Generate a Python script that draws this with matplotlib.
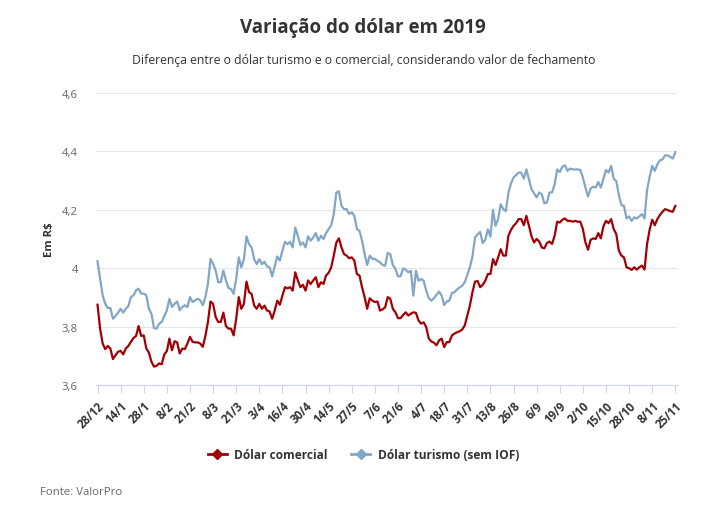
import numpy as np
import matplotlib
matplotlib.use('agg')
import matplotlib.pyplot as plt
from matplotlib.lines import Line2D

plt.rcParams['font.family'] = ['Open Sans', 'DejaVu Sans']

# fechamento diário, 28/12/2018 a 25/11/2019 (pregões)
comercial = [
    3.875, 3.793, 3.742, 3.723, 3.734, 3.725, 3.689, 3.702, 3.714, 3.717,
    3.705, 3.725, 3.734, 3.748, 3.761, 3.768, 3.802, 3.768, 3.770, 3.725,
    3.711, 3.680, 3.663, 3.666, 3.674, 3.671, 3.705, 3.716, 3.759, 3.719,
    3.750, 3.746, 3.708, 3.725, 3.723, 3.742, 3.765, 3.748, 3.746, 3.746,
    3.742, 3.731, 3.768, 3.816, 3.886, 3.878, 3.833, 3.816, 3.816, 3.848,
    3.802, 3.793,
    3.793, 3.770, 3.827, 3.901, 3.861, 3.878, 3.954, 3.918, 3.912, 3.872,
    3.861, 3.878, 3.861, 3.872, 3.855, 3.852, 3.827, 3.855, 3.889, 3.875,
    3.906, 3.935, 3.931, 3.935, 3.923, 3.986, 3.958, 3.935, 3.943, 3.923,
    3.958, 3.946, 3.958, 3.969, 3.935, 3.952, 3.946, 3.975, 3.984, 4.003,
    4.043, 4.088, 4.102, 4.071, 4.048, 4.043, 4.034, 4.037, 4.026, 3.980,
    3.975, 3.935, 3.901, 3.861, 3.897, 3.889, 3.884, 3.886,
    3.855, 3.859, 3.866, 3.901, 3.895, 3.861, 3.849, 3.829, 3.829, 3.840,
    3.849, 3.838, 3.844, 3.849, 3.847, 3.821, 3.810, 3.815, 3.798, 3.759,
    3.749, 3.745, 3.736, 3.753, 3.759, 3.730, 3.747, 3.747, 3.770, 3.776,
    3.781, 3.784, 3.790, 3.804, 3.838, 3.872, 3.918, 3.954, 3.956, 3.935,
    3.943, 3.957, 3.980, 3.980, 4.031, 4.011, 4.037, 4.065, 4.043, 4.043,
    4.111, 4.131, 4.145, 4.154,
    4.168, 4.168, 4.147, 4.179, 4.145, 4.109, 4.088, 4.100, 4.091, 4.071,
    4.068, 4.086, 4.091, 4.083, 4.111, 4.159, 4.156, 4.166, 4.170, 4.162,
    4.162, 4.159, 4.162, 4.159, 4.159, 4.134, 4.088, 4.063, 4.097, 4.102,
    4.100, 4.120, 4.102, 4.143, 4.162, 4.154, 4.168, 4.134, 4.117, 4.060,
    4.043, 4.037, 4.003, 4.000, 3.994, 4.003, 3.995, 4.003, 4.009, 3.995,
    4.083, 4.132, 4.166, 4.147, 4.168, 4.182, 4.193, 4.202, 4.199, 4.195,
    4.193, 4.213,
]

turismo = [
    4.024, 3.964, 3.907, 3.878, 3.864, 3.864, 3.827, 3.836, 3.848, 3.861,
    3.848, 3.861, 3.870, 3.901, 3.907, 3.924, 3.930, 3.913, 3.913, 3.907,
    3.861, 3.844, 3.795, 3.793, 3.810, 3.816, 3.836, 3.856, 3.895, 3.867,
    3.878, 3.886, 3.856, 3.867, 3.873, 3.867, 3.901, 3.884, 3.890, 3.895,
    3.890, 3.873, 3.901, 3.947, 4.032, 4.015, 3.992, 3.952, 3.952, 3.992,
    3.958, 3.932,
    3.929, 3.912, 3.963, 4.037, 4.003, 4.031, 4.109, 4.082, 4.071, 4.031,
    4.014, 4.031, 4.014, 4.022, 4.006, 4.003, 3.972, 4.006, 4.040, 4.026,
    4.060, 4.090, 4.082, 4.090, 4.071, 4.139, 4.111, 4.079, 4.088, 4.071,
    4.109, 4.094, 4.105, 4.120, 4.094, 4.111, 4.100, 4.120, 4.134, 4.147,
    4.185, 4.259, 4.263, 4.213, 4.202, 4.202, 4.185, 4.191, 4.179, 4.134,
    4.128, 4.094, 4.049, 4.011, 4.043, 4.032, 4.032, 4.025,
    4.020, 4.011, 4.008, 4.052, 4.048, 4.011, 3.997, 3.972, 3.972, 3.999,
    3.995, 3.986, 3.991, 3.906, 3.991, 3.957, 3.963, 3.957, 3.923, 3.897,
    3.889, 3.897, 3.909, 3.920, 3.906, 3.874, 3.886, 3.889, 3.915, 3.918,
    3.927, 3.934, 3.940, 3.952, 3.977, 4.003, 4.040, 4.105, 4.116, 4.124,
    4.086, 4.097, 4.133, 4.108, 4.199, 4.145, 4.168, 4.219, 4.202, 4.195,
    4.258, 4.290, 4.310, 4.319,
    4.327, 4.327, 4.306, 4.338, 4.304, 4.270, 4.256, 4.242, 4.259, 4.253,
    4.222, 4.225, 4.259, 4.259, 4.287, 4.338, 4.329, 4.347, 4.352, 4.333,
    4.341, 4.338, 4.338, 4.338, 4.336, 4.310, 4.276, 4.245, 4.272, 4.279,
    4.276, 4.295, 4.276, 4.306, 4.336, 4.327, 4.350, 4.306, 4.298, 4.250,
    4.216, 4.213, 4.170, 4.177, 4.162, 4.174, 4.170, 4.177, 4.185, 4.170,
    4.268, 4.313, 4.350, 4.333, 4.355, 4.369, 4.372, 4.386, 4.386, 4.381,
    4.375, 4.397,
]

tick_labels = ['28/12', '14/1', '28/1', '8/2', '21/2', '8/3', '21/3', '3/4',
               '16/4', '30/4', '14/5', '27/5', '7/6', '21/6', '4/7', '18/7',
               '31/7', '13/8', '26/8', '6/9', '19/9', '2/10', '15/10', '28/10',
               '8/11', '25/11']
tick_step = 9

y_ticks = [3.6, 3.8, 4.0, 4.2, 4.4, 4.6]
y_tick_labels = ['3,6', '3,8', '4', '4,2', '4,4', '4,6']

RED = '#a30006'
BLUE = '#82a6c6'

fig = plt.figure(figsize=(7.11, 5.1), dpi=100)
ax = fig.add_axes([0.135, 0.243, 0.817, 0.573])

x = np.arange(len(comercial))
ax.plot(x, comercial, color=RED, lw=1.6, solid_joinstyle='round', zorder=3)
ax.plot(x, turismo, color=BLUE, lw=1.6, solid_joinstyle='round', zorder=3)

ax.set_xlim(-0.6, len(comercial) - 0.4)
ax.set_ylim(3.6, 4.6)

ax.set_yticks(y_ticks)
ax.set_yticklabels(y_tick_labels, color='#666666', fontsize=8.2)
ax.tick_params(axis='y', length=0, pad=13)
ax.grid(axis='y', color='#e6e6e6', lw=0.8)
ax.set_axisbelow(True)

ax.set_xticks(np.arange(len(tick_labels)) * tick_step)
ax.set_xticklabels(tick_labels, rotation=45, ha='right', rotation_mode='anchor',
                   fontsize=8.3, fontweight='bold', color='#333333')
ax.tick_params(axis='x', length=6, width=0.8, color='#ccd6eb', pad=4)

for s in ['top', 'right', 'left']:
    ax.spines[s].set_visible(False)
ax.spines['bottom'].set_color('#ccd6eb')
ax.spines['bottom'].set_linewidth(0.8)

ax.set_ylabel('Em R$', fontsize=8.2, fontweight='bold', color='#333333', labelpad=5)

fig.text(0.511, 0.945, 'Variação do dólar em 2019', ha='center', va='center',
         fontsize=13.5, fontweight='bold', color='#333333')
fig.text(0.511, 0.882, 'Diferença entre o dólar turismo e o comercial, considerando valor de fechamento',
         ha='center', va='center', fontsize=8.8, color='#333333')

handles = [
    Line2D([], [], color=RED, lw=2, marker='D', markersize=5),
    Line2D([], [], color=BLUE, lw=2, marker='D', markersize=5),
]
fig.legend(handles, ['Dólar comercial', 'Dólar turismo (sem IOF)'],
           loc='center', bbox_to_anchor=(0.511, 0.106), ncol=2, frameon=False,
           prop={'size': 8.6, 'weight': 'bold'}, labelcolor='#333333',
           handlelength=1.6, handletextpad=0.6, columnspacing=2.0)

fig.text(0.056, 0.035, 'Fonte: ValorPro', ha='left', va='center',
         fontsize=8.2, color='#666666')

fig.savefig('out.png', dpi=100)
plt.close(fig)
